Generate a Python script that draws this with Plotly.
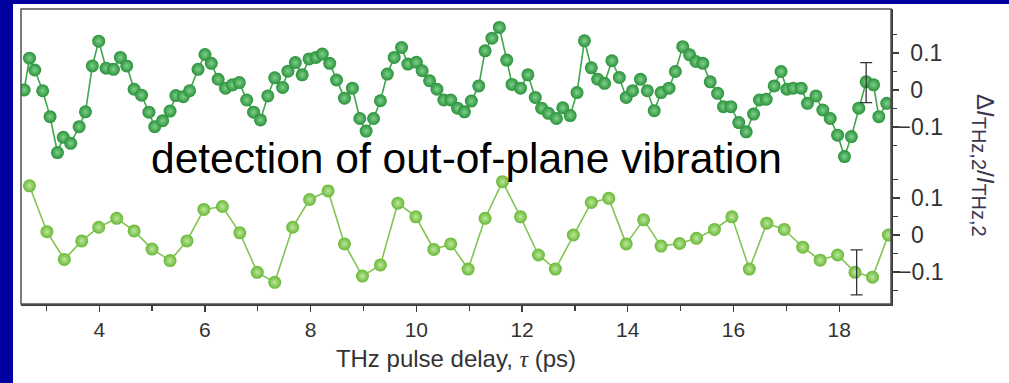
import plotly.graph_objects as go

# ---- data ----
# top panel: detection of out-of-plane vibration (dark green)
top_x = [2.58, 2.68, 2.78, 2.93, 3.07, 3.21, 3.32, 3.46, 3.62, 3.74, 3.87, 3.99,
         4.13, 4.27, 4.40, 4.52, 4.66, 4.80, 4.94, 5.05, 5.20, 5.34, 5.45, 5.59,
         5.71, 5.87, 6.00, 6.12, 6.25, 6.39, 6.52, 6.65, 6.79, 6.92, 7.05, 7.19,
         7.32, 7.47, 7.57, 7.71, 7.84, 7.97, 8.10, 8.22, 8.36, 8.49, 8.64, 8.79,
         8.93, 9.05, 9.19, 9.32, 9.45, 9.58, 9.72, 9.84, 10.00, 10.11, 10.25, 10.39,
         10.52, 10.65, 10.78, 10.91, 11.04, 11.18, 11.30, 11.43, 11.57, 11.71, 11.81, 11.97,
         12.11, 12.25, 12.37, 12.50, 12.65, 12.77, 12.91, 13.04, 13.18, 13.31, 13.43, 13.56,
         13.70, 13.84, 13.97, 14.09, 14.24, 14.37, 14.50, 14.63, 14.78, 14.90, 15.04, 15.17,
         15.29, 15.42, 15.56, 15.70, 15.81, 15.95, 16.10, 16.24, 16.38, 16.49, 16.62, 16.77,
         16.90, 17.01, 17.13, 17.28, 17.40, 17.56, 17.69, 17.83, 17.97, 18.10, 18.23, 18.37,
         18.51, 18.65, 18.75, 18.90]
top_y = [0.000, 0.086, 0.054, -0.002, -0.072, -0.169, -0.128, -0.144, -0.099, -0.059, 0.065, 0.132,
         0.059, 0.056, 0.088, 0.065, 0.002, -0.014, -0.060, -0.099, -0.083, -0.057, -0.015, -0.018,
         -0.002, 0.056, 0.096, 0.072, 0.029, 0.005, 0.014, 0.020, -0.027, -0.060, -0.081, -0.016,
         0.033, 0.007, 0.051, 0.074, 0.041, 0.084, 0.088, 0.097, 0.072, 0.027, -0.022, 0.005,
         -0.077, -0.111, -0.077, -0.029, 0.043, 0.088, 0.115, 0.070, 0.075, 0.052, 0.025, 0.002,
         -0.027, -0.027, -0.049, -0.059, -0.030, 0.011, 0.106, 0.140, 0.169, 0.081, 0.015, 0.005,
         0.041, -0.020, -0.049, -0.063, -0.077, -0.048, -0.069, -0.007, 0.133, 0.060, 0.029, 0.018,
         0.079, 0.034, -0.020, -0.002, 0.029, -0.002, -0.056, -0.007, 0.005, 0.050, 0.117, 0.095,
         0.077, 0.072, 0.022, -0.009, -0.045, -0.045, -0.088, -0.113, -0.065, -0.027, -0.025, 0.011,
         0.050, 0.002, 0.005, 0.005, -0.036, -0.016, -0.054, -0.077, -0.122, -0.180, -0.126, -0.049,
         0.022, 0.014, -0.072, -0.036]

# bottom panel (light green)
bot_x = [2.68, 3.01, 3.34, 3.67, 3.99, 4.33, 4.66, 5.00, 5.34, 5.66, 5.98, 6.33,
         6.66, 6.99, 7.32, 7.66, 7.98, 8.33, 8.64, 8.98, 9.32, 9.65, 9.99, 10.33,
         10.65, 10.98, 11.30, 11.63, 11.97, 12.31, 12.63, 12.97, 13.31, 13.64, 13.97, 14.30,
         14.63, 14.98, 15.30, 15.64, 15.97, 16.30, 16.63, 16.96, 17.31, 17.64, 17.97, 18.30,
         18.63, 18.93]
bot_y = [0.133, 0.009, -0.066, -0.016, 0.021, 0.045, 0.011, -0.038, -0.069, -0.016, 0.069, 0.077,
         0.006, -0.101, -0.128, 0.021, 0.096, 0.119, -0.024, -0.111, -0.081, 0.086, 0.049, -0.039,
         -0.024, -0.092, 0.045, 0.144, 0.049, -0.054, -0.092, 0.000, 0.088, 0.099, -0.024, 0.041,
         -0.030, -0.023, -0.009, 0.015, 0.049, -0.092, 0.032, 0.015, -0.033, -0.068, -0.054, -0.101,
         -0.114, 0.000]

# representative error bars
top_err_x = [18.51]
top_err_y = [0.020]
top_err = [0.054]
bot_err_x = [18.33]
bot_err_y = [-0.101]
bot_err = [0.061]

x_ticks = [4, 6, 8, 10, 12, 14, 16, 18]
x_minor = [3, 5, 7, 9, 11, 13, 15, 17]
y_ticks = [-0.1, 0, 0.1]
y_ticktext = ["\u22120.1", "\u00a0\u00a00", "\u00a0\u00a00.1"]
y_minor = [-0.15, -0.05, 0.05, 0.15]

annotation_text = "detection of out-of-plane vibration"
x_title = "THz pulse delay, <span style='font-family:Liberation Serif'><i>\u03c4</i></span> (ps)"
y_title = ("\u0394<i>I</i><sub><span style='font-size:20px'>THz,2</span></sub>/"
           "<i>I</i><sub><span style='font-size:20px'>THz,2</span></sub>")

# ---- figure ----
W, H = 1009, 383
ML, MR, MT, MB = 21, 118, 9, 79
PW, PH = W - ML - MR, H - MT - MB

FONT = "Liberation Sans, Arial, sans-serif"
TXT = "#333333"
AX = "#3c3c3c"

fig = go.Figure()

fig.add_trace(go.Scatter(
    x=bot_x, y=bot_y, yaxis="y", mode="lines+markers",
    line=dict(color="#80c650", width=1.6),
    marker=dict(size=13, color="#67b737",
                gradient=dict(type="radial", color="#bde79a"),
                line=dict(width=0)),
    showlegend=False))
fig.add_trace(go.Scatter(
    x=top_x, y=top_y, yaxis="y2", mode="lines+markers",
    line=dict(color="#3ea64c", width=1.6),
    marker=dict(size=13, color="#2a913a",
                gradient=dict(type="radial", color="#7ed08a"),
                line=dict(width=0)),
    showlegend=False))

for ex, ey, ee, ya in [(top_err_x, top_err_y, top_err, "y2"),
                       (bot_err_x, bot_err_y, bot_err, "y")]:
    fig.add_trace(go.Scatter(
        x=ex, y=ey, yaxis=ya, mode="markers",
        marker=dict(size=1, color="rgba(0,0,0,0)"),
        error_y=dict(type="data", array=ee, visible=True,
                     color="#333333", thickness=1.3, width=6),
        showlegend=False))

# scale: 370 px per unit in y
yscale = 370.0
bot_zero_px = 235 - MT   # from top of plot area
top_zero_px = 90 - MT
y1_range = [-(PH - bot_zero_px) / yscale, bot_zero_px / yscale]
y2_range = [-(PH - top_zero_px) / yscale, top_zero_px / yscale]

yaxis_common = dict(
    side="right", anchor="x", domain=[0, 1],
    tickmode="array", tickvals=y_ticks, ticktext=y_ticktext,
    ticks="outside", ticklen=7, tickwidth=1.3, tickcolor=AX,
    ticklabelstandoff=-6,
    minor=dict(tickmode="array", tickvals=y_minor, ticks="outside",
               ticklen=5, tickwidth=1.3, tickcolor=AX),
    tickfont=dict(family=FONT, size=23, color=TXT),
    showgrid=False, zeroline=False, fixedrange=True,
)

fig.update_layout(
    width=W, height=H,
    margin=dict(l=ML, r=MR, t=MT, b=MB, pad=0),
    paper_bgcolor="white", plot_bgcolor="white",
    xaxis=dict(
        range=[2.52, 18.98], tickmode="array", tickvals=x_ticks,
        ticks="outside", ticklen=6, tickwidth=1.3, tickcolor=AX,
        minor=dict(tickmode="array", tickvals=x_minor, ticks="outside",
                   ticklen=5, tickwidth=1.3, tickcolor=AX),
        showline=True, linecolor=AX, linewidth=1.6,
        tickfont=dict(family=FONT, size=21, color=TXT),
        showgrid=False, zeroline=False, fixedrange=True,
        title=dict(text=x_title, font=dict(family=FONT, size=24, color=TXT), standoff=10),
    ),
    yaxis=dict(range=y1_range, showline=True, linecolor=AX, linewidth=1.6, **yaxis_common),
    yaxis2=dict(range=y2_range, overlaying="y", showline=False, **yaxis_common),
    font=dict(family=FONT),
)

# frame (left and top border)
fig.add_shape(type="rect", xref="paper", yref="paper", x0=0, y0=0, x1=1, y1=1,
              line=dict(color="#505050", width=1.5), fillcolor="rgba(0,0,0,0)", layer="above")

# blue slide frame (left strip and top strip)
BLUE = "#0000a0"
def px2paper_x(px):
    return (px - ML) / PW
def px2paper_y(py):
    return (MT + PH - py) / PH
fig.add_shape(type="rect", xref="paper", yref="paper",
              x0=px2paper_x(0), x1=px2paper_x(13), y0=px2paper_y(H), y1=px2paper_y(0),
              fillcolor=BLUE, line=dict(width=0), layer="below")
fig.add_shape(type="rect", xref="paper", yref="paper",
              x0=px2paper_x(0), x1=px2paper_x(W), y0=px2paper_y(4), y1=px2paper_y(0),
              fillcolor=BLUE, line=dict(width=0), layer="below")

fig.add_annotation(text=annotation_text, xref="paper", yref="paper",
                   x=px2paper_x(466.7), y=px2paper_y(158), xanchor="center", yanchor="middle",
                   showarrow=False, font=dict(family=FONT, size=42.5, color="black"))

fig.add_annotation(text=y_title, xref="paper", yref="paper",
                   x=px2paper_x(984), y=px2paper_y(165), xanchor="center", yanchor="middle",
                   textangle=90, showarrow=False,
                   font=dict(family=FONT, size=24, color="#3a3550"))

fig.write_html("out.html", config={"displayModeBar": False, "staticPlot": True},
               post_script="document.body.style.margin='0';document.body.style.overflow='hidden';")
